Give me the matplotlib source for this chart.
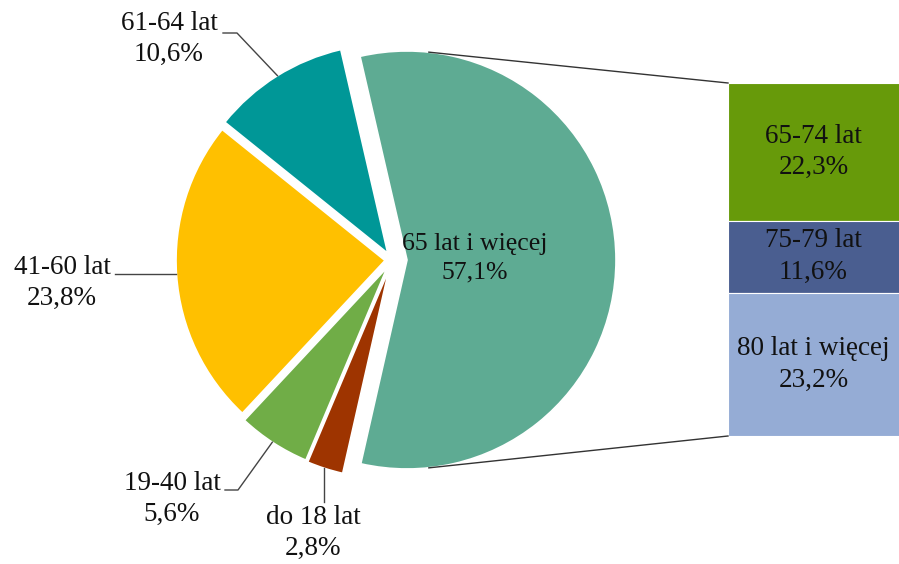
import numpy as np
import matplotlib
matplotlib.use("Agg")
import matplotlib.pyplot as plt

# ---- data ----
pie_labels = ["65 lat i więcej", "61-64 lat", "41-60 lat", "19-40 lat", "do 18 lat"]
pie_values = [57.1, 10.6, 23.8, 5.6, 2.8]
pie_pct_text = ["57,1%", "10,6%", "23,8%", "5,6%", "2,8%"]
pie_colors = ["#5EAB93", "#009797", "#FFC000", "#70AD47", "#9E3400"]

bar_labels = ["65-74 lat", "75-79 lat", "80 lat i więcej"]
bar_values = [22.3, 11.6, 23.2]
bar_pct_text = ["22,3%", "11,6%", "23,2%"]
bar_colors = ["#679A0A", "#4A5E90", "#95ACD5"]

# ---- layout (pixel-based coordinates, y measured from bottom) ----
W, H = 899, 564
def Y(y):
    return H - y

plt.rcParams['font.family'] = ['Liberation Serif', 'DejaVu Serif']
FS = 19.5
LS = 1.35
TC = "#111111"

fig = plt.figure(figsize=(W / 100, H / 100), dpi=100)
ax = fig.add_axes([0, 0, 1, 1])

cx, cy = 392, Y(260)
R = 209
explode = [15, 8, 7, 9, 10]
start = -pie_values[0] / 100 * 360 / 2

wedges, _ = ax.pie(pie_values, colors=pie_colors, startangle=start, counterclock=True,
                   center=(cx, cy), radius=R, explode=explode,
                   wedgeprops=dict(edgecolor="white", linewidth=1.2))

# angles of wedges
angles = []
a = start
for v in pie_values:
    a1 = a + v / 100 * 360
    angles.append((a, a1))
    a = a1

def apex(i):
    t1, t2 = angles[i]
    m = np.deg2rad((t1 + t2) / 2)
    return cx + explode[i] * np.cos(m), cy + explode[i] * np.sin(m)

def arc_point(i, ang_deg):
    ax0, ay0 = apex(i)
    t = np.deg2rad(ang_deg)
    return ax0 + R * np.cos(t), ay0 + R * np.sin(t)

def arc_mid(i):
    t1, t2 = angles[i]
    return arc_point(i, (t1 + t2) / 2)

# ---- stacked bar ----
bar_left, bar_right = 728, 905
bar_top, bar_bot = Y(83), Y(436)
scale = (bar_top - bar_bot) / sum(bar_values)
bottoms = []
b = bar_bot
for v in reversed(bar_values):
    bottoms.append(b)
    b += v * scale
bottoms = list(reversed(bottoms))
heights = [v * scale for v in bar_values]
ax.bar([(bar_left + bar_right) / 2] * 3, heights, bottom=bottoms,
       width=bar_right - bar_left, color=bar_colors, edgecolor="white", linewidth=0.8)
bx_text = (bar_left + 899) / 2
for lab, pct, b0, h in zip(bar_labels, bar_pct_text, bottoms, heights):
    ax.text(bx_text, b0 + h / 2, f"{lab}\n{pct}", ha="center", va="center",
            fontsize=FS, linespacing=LS, color=TC)

# ---- connector lines ----
p_top = arc_point(0, 84)
p_bot = arc_point(0, -84)
ax.plot([p_top[0], bar_left], [p_top[1], bar_top], color="#333333", lw=1.0)
ax.plot([p_bot[0], bar_left], [p_bot[1], bar_bot], color="#333333", lw=1.0)

# ---- main slice label ----
ax.text(475, Y(258), f"{pie_labels[0]}\n{pie_pct_text[0]}", ha="center", va="center",
        fontsize=18.5, linespacing=LS, color=TC)

# ---- outside labels with leader lines ----
lc = "#444444"
# 61-64
ax.text(169, Y(39), f"{pie_labels[1]}\n{pie_pct_text[1]}", ha="center", va="center",
        fontsize=FS, linespacing=LS, color=TC)
m = arc_mid(1)
ax.plot([223, 237, m[0]], [Y(33), Y(33), m[1]], color=lc, lw=1.0)
# 41-60
ax.text(62, Y(283), f"{pie_labels[2]}\n{pie_pct_text[2]}", ha="center", va="center",
        fontsize=FS, linespacing=LS, color=TC)
m = arc_mid(2)
ax.plot([115, m[0]], [Y(274), Y(274)], color=lc, lw=1.0)
# 19-40
ax.text(172, Y(499), f"{pie_labels[3]}\n{pie_pct_text[3]}", ha="center", va="center",
        fontsize=FS, linespacing=LS, color=TC)
m = arc_mid(3)
ax.plot([225, 238, m[0]], [Y(490), Y(490), m[1]], color=lc, lw=1.0)
# do 18
ax.text(313, Y(533), f"{pie_labels[4]}\n{pie_pct_text[4]}", ha="center", va="center",
        fontsize=FS, linespacing=LS, color=TC)
m = arc_mid(4)
ax.plot([m[0], m[0]], [Y(502), m[1]], color=lc, lw=1.0)

ax.set_xlim(0, W)
ax.set_ylim(0, H)
ax.set_aspect("equal", adjustable="box")
ax.axis("off")

fig.savefig("out.png", dpi=100, facecolor="white")
